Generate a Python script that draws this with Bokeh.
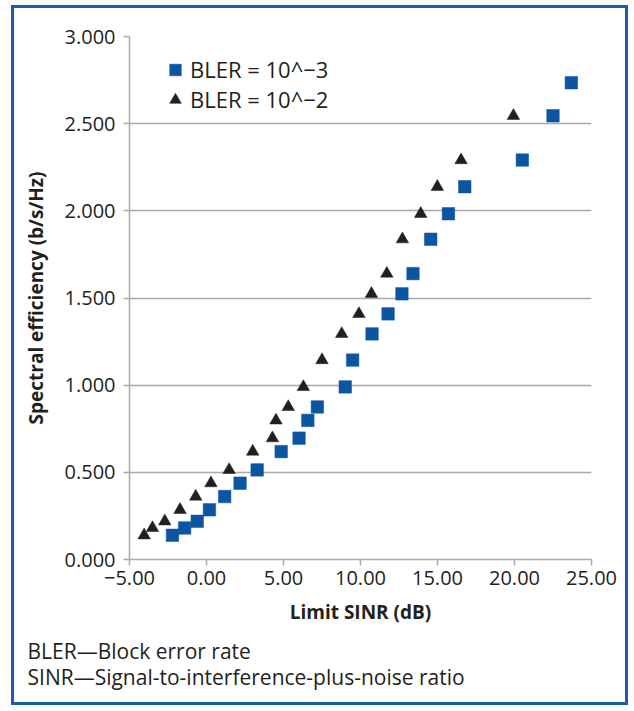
from bokeh.plotting import figure
from bokeh.models import (Legend, LegendItem, Title, CustomJSTickFormatter,
                          NumeralTickFormatter, FixedTicker, Range1d)
from bokeh.embed import file_html
from bokeh.resources import INLINE

# ---- data ----
sinr_bler_1e3 = [-2.21, -1.42, -0.60, 0.19, 1.18, 2.18, 3.29, 4.85, 6.01, 6.58,
                 7.20, 9.01, 9.49, 10.75, 11.79, 12.69, 13.41, 14.56, 15.71,
                 16.77, 20.51, 22.50, 23.69]
eff_bler_1e3 = [0.139, 0.181, 0.219, 0.285, 0.361, 0.438, 0.514, 0.619, 0.696,
                0.798, 0.875, 0.990, 1.144, 1.294, 1.409, 1.524, 1.640, 1.837,
                1.983, 2.138, 2.291, 2.545, 2.735]
sinr_bler_1e2 = [-4.05, -3.51, -2.71, -1.72, -0.70, 0.29, 1.47, 3.00, 4.28, 4.51,
                 5.31, 6.29, 7.50, 8.78, 9.90, 10.71, 11.71, 12.72, 13.91, 14.99,
                 16.53, 19.93]
eff_bler_1e2 = [0.139, 0.181, 0.219, 0.285, 0.361, 0.438, 0.514, 0.619, 0.696,
                0.798, 0.875, 0.990, 1.144, 1.294, 1.409, 1.524, 1.640, 1.837,
                1.983, 2.138, 2.291, 2.545]
x_ticks = [-5, 0, 5, 10, 15, 20, 25]
y_ticks = [0, 0.5, 1.0, 1.5, 2.0, 2.5, 3.0]
series_labels = ["BLER = 10^\u22123", "BLER = 10^\u22122"]
notes = ["BLER\u2014Block error rate",
         "SINR\u2014Signal-to-interference-plus-noise ratio"]

FONT = "Open Sans"
TXT = "#231f20"
GRID = "#a9a9a9"
BLUE = "#0b55a3"
BORDER = "#1c5da6"

p = figure(width=617, height=700, x_range=Range1d(-5, 25), y_range=Range1d(0, 3),
           output_backend="svg", toolbar_location=None,
           min_border_left=115, min_border_right=40,
           min_border_top=28, min_border_bottom=149)
p.styles = {"margin-left": "11px", "margin-top": "5px",
            "border": f"3px solid {BORDER}"}
p.outline_line_color = None
p.background_fill_color = "white"
p.border_fill_color = "white"

r1 = p.scatter(sinr_bler_1e3, eff_bler_1e3, marker="square", size=12.5,
               fill_color=BLUE, line_color=BLUE, line_width=0.5)
r2 = p.scatter(sinr_bler_1e2, eff_bler_1e2, marker="triangle", size=12.5,
               fill_color=TXT, line_color=TXT, line_width=0.5)

# axes
p.xaxis.ticker = FixedTicker(ticks=x_ticks)
p.yaxis.ticker = FixedTicker(ticks=y_ticks)
p.xaxis.formatter = CustomJSTickFormatter(
    code="return (tick < 0 ? '\u2212' : '') + Math.abs(tick).toFixed(2);")
p.yaxis.formatter = NumeralTickFormatter(format="0.000")
for ax in (p.xaxis[0], p.yaxis[0]):
    ax.axis_line_color = GRID
    ax.axis_line_width = 1.5
    ax.major_tick_line_color = GRID
    ax.major_tick_line_width = 1.5
    ax.major_tick_out = 6
    ax.major_tick_in = 0
    ax.minor_tick_out = 0
    ax.minor_tick_in = 0
    ax.major_label_text_font = FONT
    ax.major_label_text_font_size = "20px"
    ax.major_label_text_color = TXT
    ax.axis_label_text_font = FONT
    ax.axis_label_text_font_style = "bold"
    ax.axis_label_text_font_size = "19px"
    ax.axis_label_text_color = TXT
p.yaxis.major_label_standoff = 8
p.xaxis.major_label_standoff = 5
p.xaxis.axis_label = "Limit SINR (dB)"
p.yaxis.axis_label = "Spectral efficiency (b/s/Hz)"
p.yaxis.axis_label_standoff = 13
p.xaxis.axis_label_standoff = 11

p.xgrid.visible = False
p.ygrid.ticker = FixedTicker(ticks=y_ticks)
p.ygrid.grid_line_color = GRID
p.ygrid.grid_line_width = 1.5

# legend
legend = Legend(items=[LegendItem(label=series_labels[0], renderers=[r1]),
                       LegendItem(label=series_labels[1], renderers=[r2])],
                location=(31, 445), orientation="vertical")
legend.padding = 0
legend.margin = 0
legend.spacing = 0
legend.glyph_width = 30
legend.glyph_height = 29
legend.label_height = 29
legend.label_standoff = 0
legend.border_line_color = None
legend.background_fill_alpha = 0
legend.label_text_font = FONT
legend.label_text_font_size = "22px"
legend.label_text_color = TXT
legend.label_text_baseline = "middle"
p.add_layout(legend, "center")

# notes below the chart (one two-line block)
p.add_layout(Title(text="\n".join(notes), align="left", offset=-102, standoff=14,
                   text_font=FONT, text_font_size="21px", text_line_height=0.95,
                   text_font_style="normal", text_color=TXT), "below")

open("out.html", "w").write(file_html(p, INLINE))
